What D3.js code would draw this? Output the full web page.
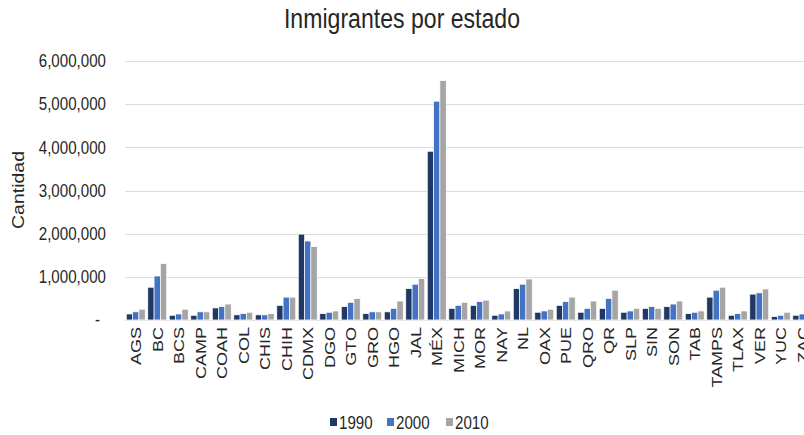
<!DOCTYPE html>
<html>
<head>
<meta charset="utf-8">
<script src="https://cdn.jsdelivr.net/npm/d3@7"></script>
<style>
  html, body { margin: 0; padding: 0; background: #fff; }
  svg { display: block; }
  text { font-family: "Liberation Sans", Arial, sans-serif; fill: #262626; }
</style>
</head>
<body>
<svg id="chart" width="804" height="435"></svg>
<script>
// ---- Data ----
const states = ["AGS","BC","BCS","CAMP","COAH","COL","CHIS","CHIH","CDMX","DGO","GTO","GRO","HGO","JAL","MÉX","MICH","MOR","NAY","NL","OAX","PUE","QRO","QR","SLP","SIN","SON","TAB","TAMPS","TLAX","VER","YUC","ZAC"];
const years = ["1990","2000","2010"];
const v1990 = [140000,760000,110000,110000,280000,120000,120000,340000,1990000,150000,310000,150000,190000,730000,3910000,270000,340000,110000,730000,180000,340000,180000,270000,180000,270000,310000,150000,530000,110000,600000,80000,110000];
const v2000 = [190000,1020000,140000,190000,310000,150000,120000,530000,1830000,180000,410000,190000,270000,830000,5070000,340000,430000,140000,830000,210000,430000,270000,500000,210000,310000,370000,180000,690000,150000,630000,110000,140000];
const v2010 = [250000,1310000,250000,190000,370000,180000,150000,530000,1700000,210000,500000,190000,440000,960000,5550000,410000,460000,210000,950000,250000,530000,440000,690000,270000,270000,440000,210000,760000,210000,720000,180000,180000];
const yTicks = [0,1000000,2000000,3000000,4000000,5000000,6000000];
const colors = ["#203864","#4472C4","#A5A5A5"];
const title = "Inmigrantes por estado";
const yTitle = "Cantidad";

// ---- Layout (virtual coords are squished horizontally) ----
const sx = 0.84;
const W = 804, H = 435;
const VW = W / sx;
const svg = d3.select("#chart").attr("viewBox", `0 0 ${VW} ${H}`).attr("preserveAspectRatio", "none");
const vx = v => v / sx; // reference pixel x -> virtual x

const series = [v1990, v2000, v2010];
const rows = states.map((s, i) => ({ state: s, vals: years.map((y, j) => ({ year: y, value: series[j][i], j })) }));

const x = d3.scaleBand().domain(states).range([vx(125), vx(813)]).paddingInner(0.12).paddingOuter(0.06);
const xs = d3.scaleBand().domain(years).range([0, x.bandwidth()]).padding(0);
const y = d3.scaleLinear().domain([0, 6000000]).range([320, 61]);

// gridlines
svg.append("g").selectAll("line").data(yTicks).join("line")
  .attr("x1", vx(125)).attr("x2", VW + 10)
  .attr("y1", d => Math.round(y(d)) + 0.5).attr("y2", d => Math.round(y(d)) + 0.5)
  .attr("stroke", "#d9d9d9").attr("stroke-width", 1);

// y tick labels
const fmt = d3.format(",");
svg.append("g").selectAll("text").data(yTicks).join("text")
  .attr("x", d => d === 0 ? vx(100) : vx(106))
  .attr("y", d => y(d))
  .attr("dy", "0.35em")
  .attr("text-anchor", "end")
  .attr("font-size", 18)
  .text(d => d === 0 ? "-" : fmt(d));

// bars
const groups = svg.append("g").selectAll("g").data(rows).join("g")
  .attr("transform", d => `translate(${x(d.state)},0)`);
groups.selectAll("rect").data(d => d.vals).join("rect")
  .attr("x", d => xs(d.year))
  .attr("width", xs.bandwidth())
  .attr("y", d => y(d.value))
  .attr("height", d => y(0) - y(d.value))
  .attr("fill", d => colors[d.j])
  .attr("stroke", "#ffffff").attr("stroke-width", 0.8);

// x labels
svg.append("g").selectAll("text").data(states).join("text")
  .attr("transform", d => `translate(${x(d) + x.bandwidth() / 2},327) rotate(-90)`)
  .attr("dy", "0.36em")
  .attr("text-anchor", "end")
  .attr("font-size", 18)
  .text(d => d);

// title
svg.append("text").attr("x", vx(402)).attr("y", 28).attr("text-anchor", "middle")
  .attr("font-size", 27.5).text(title);

// y title
svg.append("text").attr("transform", `translate(${vx(24)},190) rotate(-90)`)
  .attr("text-anchor", "middle").attr("font-size", 19.5).text(yTitle);

// legend
const legX = [330, 387, 446];
const leg = svg.append("g").selectAll("g").data(years).join("g")
  .attr("transform", (d, i) => `translate(${vx(legX[i])},0)`);
leg.append("rect").attr("x", 0).attr("y", 418).attr("width", vx(7)).attr("height", 8)
  .attr("fill", (d, i) => colors[i]);
leg.append("text").attr("x", vx(9)).attr("y", 429).attr("font-size", 18).text(d => d);
</script>
</body>
</html>
